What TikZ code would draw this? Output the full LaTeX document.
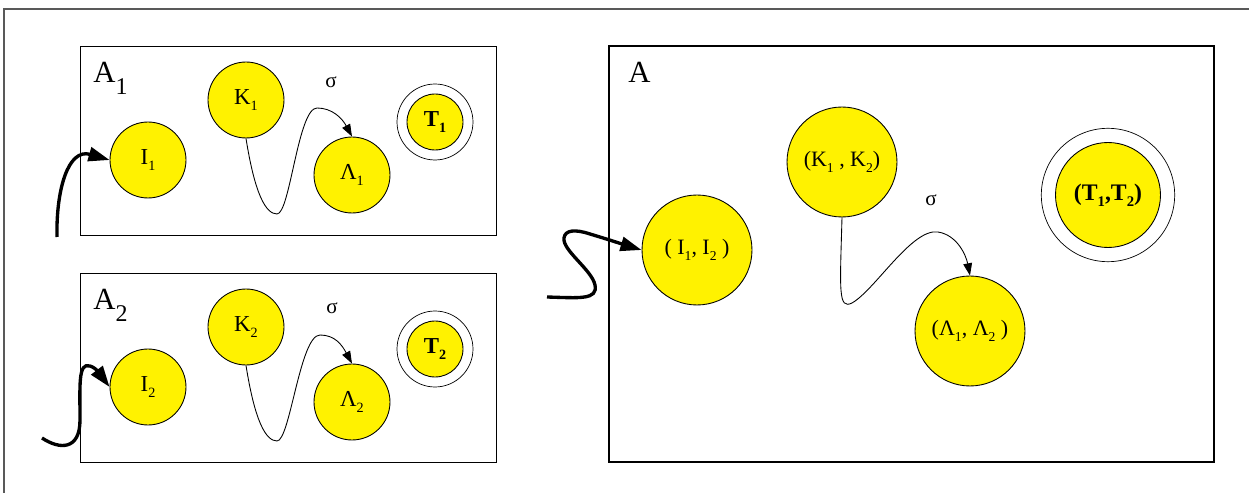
\documentclass[tikz,border=0pt]{standalone}
\usepackage{fontspec}
\setmainfont{Liberation Serif}
\usetikzlibrary{arrows.meta}

\newcommand{\ix}[1]{\raisebox{-0.26em}{\scalebox{0.62}{#1}}}
\newcommand{\lsub}[1]{\raisebox{-0.38em}{\scalebox{0.78}{#1}}}

\tikzset{
  st/.style={circle, draw, fill=yellow, line width=0.5pt, minimum size=1.52cm,
    inner sep=0pt, font=\fontsize{13}{15}\selectfont},
  fin/.style={st, minimum size=1.12cm, font=\fontsize{13}{15}\selectfont\bfseries},
  bigst/.style={st, minimum size=2.2cm, font=\fontsize{12.5}{15}\selectfont},
  bigfin/.style={st, minimum size=2.1cm, font=\fontsize{13.5}{15}\selectfont\bfseries},
  autbox/.style={draw, line width=0.5pt},
  autlabel/.style={anchor=base west, inner sep=0pt, font=\fontsize{17.5}{20}\selectfont},
  siglabel/.style={inner sep=0pt, font=\fontsize{12}{14}\selectfont},
  trans/.style={-{Triangle[length=7pt,width=5pt]}, line width=0.5pt},
  inarrow/.style={-{Triangle[length=12pt,width=8pt]}, line width=1.9pt},
}

\begin{document}
\begin{tikzpicture}[x=0.02cm, y=-0.02cm]
        \useasboundingbox (0,0) rectangle (1249,493);
        \draw[gray!70!black, line width=0.8pt] (4,493) -- (4,9) -- (1249,9);

        % first component
        \draw[autbox] (80,46) rectangle (496,235);
        \node[autlabel] (lab1) at (93,83) {A\lsub{1}};
        \node[st] (i1) at (148,160) {I\ix{1}};
        \node[st] (k1) at (246,100) {K\ix{1}};
        \node[st] (l1) at (352,175) {Λ\ix{1}};
        \node[fin] (t1) at (435,122) {T\ix{1}};
        \draw (t1.center) circle[radius=0.76cm];
        \node[siglabel] (s1) at (331,82) {σ};
        \coordinate (in1) at (57,237);
        \draw[inarrow] (in1) .. controls (56,190) and (68,148) .. (i1.west);
        \draw[trans] (k1.south) .. controls (255,195) and (266,214) .. (277,214)
              .. controls (290,214) and (298,108) .. (317,108)
              .. controls (332,108) and (342,118) .. (l1.north);

        % second component
        \draw[autbox] (80,273) rectangle (496,462);
        \node[autlabel] (lab2) at (93,310) {A\lsub{2}};
        \node[st] (i2) at (148,387) {I\ix{2}};
        \node[st] (k2) at (246,327) {K\ix{2}};
        \node[st] (l2) at (352,402) {Λ\ix{2}};
        \node[fin] (t2) at (435,349) {T\ix{2}};
        \draw (t2.center) circle[radius=0.76cm];
        \node[siglabel] (s2) at (332,308) {σ};
        \coordinate (in2) at (42,438);
        \draw[inarrow] (in2) .. controls (60,450) and (80,450) .. (80,420)
              .. controls (80,385) and (78,362) .. (90,366)
              .. controls (97,368) and (102,377) .. (i2.west);
        \draw[trans] (k2.south) .. controls (255,422) and (266,441) .. (277,441)
              .. controls (290,441) and (300,335) .. (320,335)
              .. controls (335,335) and (342,345) .. (l2.north);

        % product
        \draw[autbox, line width=1.1pt] (609,46) rectangle (1214,462);
        \node[autlabel] (lab) at (628,83) {A};
        \node[bigst] (ii) at (697,250) {( I\ix{1}, I\ix{2} )};
        \node[bigst] (kk) at (842,162) {(K\ix{1} , K\ix{2})};
        \node[bigst] (ll) at (970,331) {(Λ\ix{1}, Λ\ix{2} )};
        \node[bigfin] (tt) at (1108,195) {(T\ix{1},T\ix{2})};
        \draw (tt.center) circle[radius=1.334cm];
        \node[siglabel] (ss) at (931,200) {σ};
        \coordinate (in) at (547,297);
        \draw[inarrow] (in) .. controls (580,298) and (598,300) .. (595,285)
              .. controls (592,270) and (562,250) .. (564,238)
              .. controls (565,230) and (575,229) .. (590,234)
              .. controls (610,240) and (625,245) .. (ii.west);
        \draw[trans] (kk.south) .. controls (840,290) and (838,310) .. (852,303)
              .. controls (875,290) and (912,228) .. (938,232)
              .. controls (957,235) and (966,255) .. (ll.north);
\end{tikzpicture}
\end{document}
